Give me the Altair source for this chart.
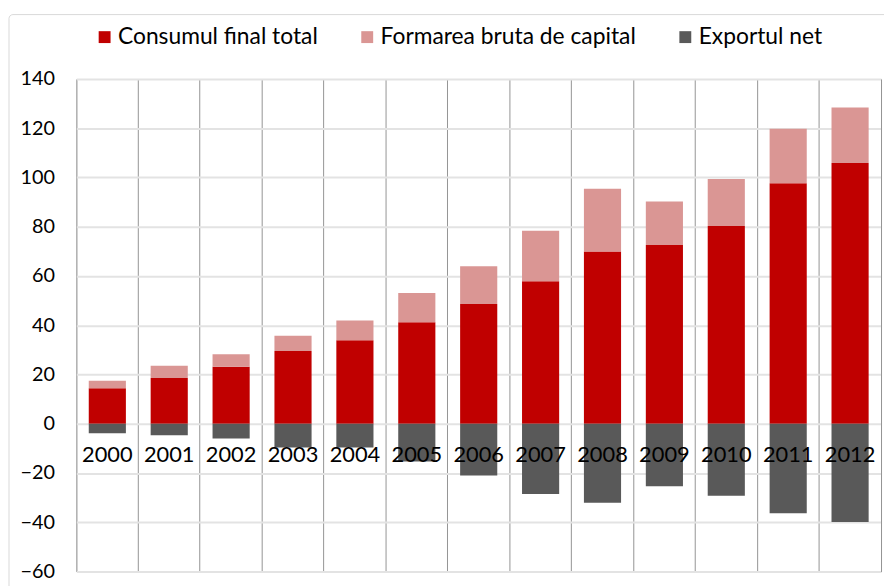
import altair as alt
import pandas as pd

years = [str(y) for y in range(2000, 2013)]
consum = [14.4, 18.6, 23.1, 29.5, 33.9, 41.2, 48.6, 57.9, 69.9, 72.6, 80.3, 97.7, 105.9]
formare = [3.1, 4.9, 5.1, 6.2, 8.0, 11.9, 15.4, 20.5, 25.5, 17.6, 19.1, 22.1, 22.5]
export_net = [-3.9, -4.7, -6.0, -9.6, -9.6, -15.3, -21.0, -28.5, -32.1, -25.4, -29.2, -36.3, -39.9]
series = ["Consumul final total", "Formarea bruta de capital", "Exportul  net"]
colors = ["#C00000", "#DA9694", "#595959"]
y_ticks = list(range(-60, 141, 20))

rows = []
for i, yr in enumerate(years):
    for k, vals in enumerate([consum, formare, export_net]):
        rows.append({"An": yr, "Serie": series[k], "Valoare": vals[i], "ord": k})
df = pd.DataFrame(rows)
df_years = pd.DataFrame({"An": years})

FONT = "Lato"
W, H = 812, 497

xscale = alt.Scale(domain=years, paddingInner=0, paddingOuter=0)
yscale = alt.Scale(domain=[-60, 140], nice=False, zero=False)

bars = alt.Chart(df).mark_bar(width={"band": 0.6}).encode(
    x=alt.X("An:N", scale=xscale, sort=years,
            axis=alt.Axis(title=None, labels=False, ticks=False, domain=False,
                          grid=True, bandPosition=0, gridColor="#949494",
                          gridWidth=1)),
    y=alt.Y("Valoare:Q", scale=yscale, stack="zero",
            axis=alt.Axis(title=None, values=y_ticks, ticks=False, domain=False,
                          grid=True, gridColor="#e3e3e3", gridWidth=2,
                          labelFont=FONT, labelFontSize=20, labelColor="#000000",
                          labelPadding=22)),
    color=alt.Color("Serie:N", sort=series,
                    scale=alt.Scale(domain=series, range=colors),
                    legend=alt.Legend(title=None, orient="none", direction="horizontal",
                                      columns=3, legendX=17, legendY=-54,
                                      symbolType="square", symbolSize=144,
                                      symbolStrokeWidth=0,
                                      labelFont=FONT, labelFontSize=23,
                                      labelColor="#000000", labelOffset=2,
                                      columnPadding=38, labelLimit=400)),
    order=alt.Order("ord:Q"),
)

right_edge = alt.Chart(df_years).mark_rule(opacity=0).encode(
    x=alt.X("An:N", scale=xscale, sort=years),
    y=alt.Y(datum=0, scale=yscale,
            axis=alt.Axis(orient="right", title=None, labels=False, ticks=False,
                          grid=False, domain=True, domainColor="#949494",
                          domainWidth=1)),
)

labels = alt.Chart(df_years).mark_text(
    font=FONT, fontSize=22, color="#000000", baseline="alphabetic", dy=39
).encode(
    x=alt.X("An:N", scale=xscale, sort=years),
    y=alt.Y(datum=0, scale=yscale, axis=None),
    text="An:N",
)

frame = alt.Chart(pd.DataFrame({"f": [0]})).mark_rect(
    filled=False, stroke="#d9d9d9", strokeWidth=1, cornerRadius=4, clip=False
).encode(
    x=alt.value(-68), y=alt.value(-65), x2=alt.value(840), y2=alt.value(540)
)

chart = alt.layer(frame, bars, right_edge, labels).resolve_axis(
    y="independent"
).properties(
    width=W, height=H,
    autosize=alt.AutoSizeParams(type="none"),
    padding={"left": 69, "top": 69, "right": 3, "bottom": 12},
).configure_view(stroke=None).configure(background="white")

chart.save("out.html", embed_options={"renderer": "svg", "actions": False})
